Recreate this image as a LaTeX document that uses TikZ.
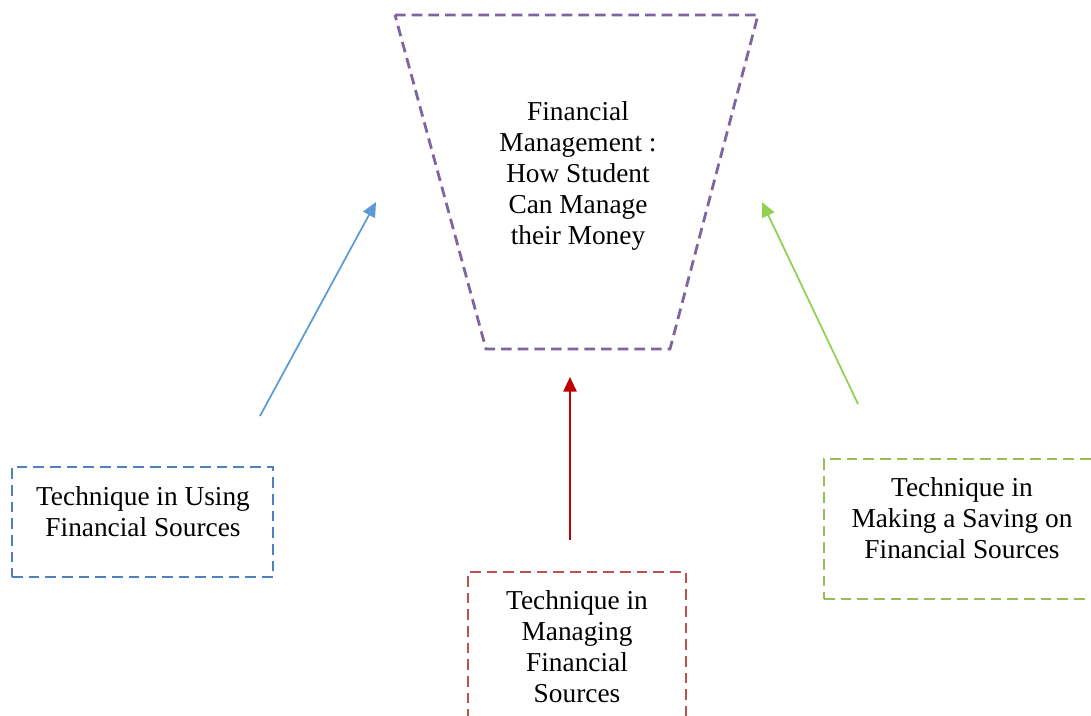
\documentclass[tikz,border=0pt]{standalone}
\usepackage{fontspec}
\setmainfont{Liberation Serif}
\usetikzlibrary{arrows.meta}
\definecolor{cpurple}{HTML}{8064A2}
\definecolor{cblue}{HTML}{4F81BD}
\definecolor{cbluea}{HTML}{5B9BD5}
\definecolor{cred}{HTML}{C0504D}
\definecolor{creda}{HTML}{C00000}
\definecolor{cgreen}{HTML}{9BBB59}
\definecolor{cgreena}{HTML}{92D050}
\tikzset{
  dbox/.style={draw=#1, line width=2.1pt, dash pattern=on 8pt off 4.5pt, inner sep=0pt, rectangle},
  lbl/.style={align=center, inner sep=0pt, font=\fontsize{20.5}{23.25}\selectfont},
  conn/.style={draw=#1, line width=1.3pt, -{Triangle[length=11pt,width=10pt]}},
}
\begin{document}
\begin{tikzpicture}[x=0.75pt,y=-0.75pt]
\useasboundingbox (0,0) rectangle (1091,715);
\clip (0,0) rectangle (1091,715);
% trapezoid
\draw[cpurple, line width=2.1pt, dash pattern=on 8pt off 4.5pt] (395,15) -- (758,15) -- (670,349) -- (486,349) -- cycle;
\node[lbl] (fm) at (578,176) {Financial\\Management :\\How Student\\Can Manage\\their Money};
% boxes
\node[dbox=cblue, minimum width=261*0.75pt, minimum height=110*0.75pt] (lb) at (142.5,522) {};
\node[lbl] (lt) at (143,512) {Technique in Using\\Financial Sources};
\node[dbox=cred, minimum width=218*0.75pt, minimum height=160*0.75pt] (mb) at (577,652) {};
\node[lbl] (mt) at (577,647) {Technique in\\Managing\\Financial\\Sources};
\node[dbox=cgreen, minimum width=280*0.75pt, minimum height=140*0.75pt] (rb) at (964,529) {};
\node[lbl] (rt) at (962,518) {Technique in\\Making a Saving on\\Financial Sources};
% arrows
\coordinate (a1s) at (260,416); \coordinate (a1e) at (376,202);
\coordinate (a2s) at (570,540); \coordinate (a2e) at (570,377);
\coordinate (a3s) at (858,404); \coordinate (a3e) at (762,202);
\draw[conn=cbluea] (a1s) -- (a1e);
\draw[conn=creda] (a2s) -- (a2e);
\draw[conn=cgreena] (a3s) -- (a3e);
\end{tikzpicture}
\end{document}
